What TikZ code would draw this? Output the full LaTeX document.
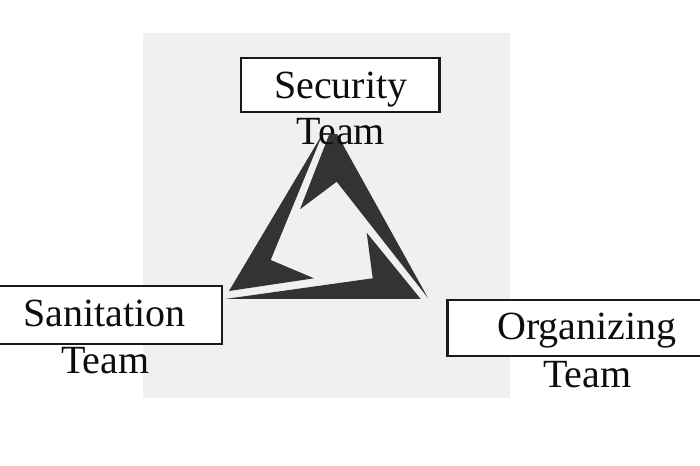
\documentclass[tikz,border=0pt]{standalone}
\usepackage{fontspec}
\setmainfont{Liberation Serif}
\definecolor{panel}{HTML}{F1EFF0}
\definecolor{shard}{HTML}{333333}
\tikzset{
  teambox/.style={draw=black!90,line width=2.2bp,fill=white,inner sep=0pt},
  teamtext/.style={anchor=base west,inner sep=0pt,font=\fontsize{40bp}{40bp}\selectfont,text=black!95},
  shardfill/.style={fill=shard,draw=none}
}
\begin{document}
\begin{tikzpicture}[x=1bp,y=-1bp]
\useasboundingbox (0,0) rectangle (700,466);
\fill[white] (0,0) rectangle (700,466);
\fill[panel] (143,33) rectangle (510,398);
% triangle shards
\fill[shardfill] (323,133) -- (229,291) -- (314,278.3) -- (270.7,260) -- cycle;
\fill[shardfill] (329,135) -- (337,134) -- (428,298) -- (336.7,181.7) -- (300,209.3) -- cycle;
\fill[shardfill] (225,299) -- (372.7,278.3) -- (366.7,232.7) -- (420.7,299) -- cycle;
% boxes
\node[teambox,minimum width=198.5bp,minimum height=54bp] (securitybox) at (340.3,84.7) {};
\node[teambox,minimum width=232bp,minimum height=58.2bp] (sanitationbox) at (106,315.2) {};
\node[teambox,minimum width=272bp,minimum height=55.4bp] (organizingbox) at (583.5,328) {};
% labels
\node[teamtext] (security) at (274,99) {Security};
\node[teamtext] (securityteam) at (296.5,145) {Team};
\node[teamtext] (sanitation) at (23.5,327) {Sanitation};
\node[teamtext] (sanitationteam) at (61,373.5) {Team};
\node[teamtext] (organizing) at (497,340) {Organizing};
\node[teamtext] (organizingteam) at (543,387) {Team};
\end{tikzpicture}
\end{document}
